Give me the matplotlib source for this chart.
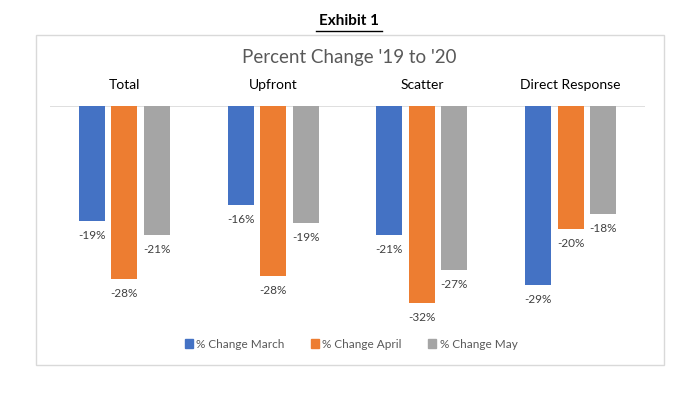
import numpy as np
import matplotlib.pyplot as plt
from matplotlib.patches import Rectangle, Patch
from matplotlib.lines import Line2D

plt.rcParams['font.family'] = ['Lato', 'DejaVu Sans']

categories = ['Total', 'Upfront', 'Scatter', 'Direct Response']
series = ['% Change March', '% Change April', '% Change May']
march = [-18.6, -16.1, -20.9, -29.1]
april = [-28.1, -27.6, -32.0, -20.0]
may = [-20.9, -19.0, -26.6, -17.6]
colors = ['#4472C4', '#ED7D31', '#A5A5A5']

W, H = 697, 403
fig = plt.figure(figsize=(W / 100, H / 100), dpi=100)
fig.patch.set_facecolor('white')

def fx(px):
    return px / W

def fy(py):
    return 1 - py / H

# outer chart frame
fig.patches.append(Rectangle((fx(36), fy(365)), fx(664) - fx(36), fy(35) - fy(365),
                             transform=fig.transFigure, fill=False,
                             edgecolor='#D9D9D9', lw=1))

# axes: zero line at y=106, 6.16 px per percent
ymin = -40
ax = fig.add_axes([fx(50), fy(106 + 40 * 6.16), fx(645) - fx(50), (40 * 6.16) / H])
ax.set_xlim(-0.5, 3.5)
ax.set_ylim(ymin, 0)
for s in ax.spines.values():
    s.set_visible(False)
ax.set_xticks([])
ax.set_yticks([])
ax.axhline(0, color='#D9D9D9', lw=1.2, zorder=1)

x = np.arange(len(categories))
width = 0.175
step = 0.218
for k, (vals, c) in enumerate(zip([march, april, may], colors)):
    pos = x + (k - 1) * step
    ax.bar(pos, vals, width, color=c, zorder=2)
    for p, v in zip(pos, vals):
        ax.annotate('{:.0f}%'.format(v), (p, v), xytext=(0, -10.5),
                    textcoords='offset points', ha='center', va='center',
                    fontsize=8.5, color='#404040')

for i, cat in enumerate(categories):
    ax.annotate(cat, (i, 0), xytext=(0, 15), textcoords='offset points',
                ha='center', va='center', fontsize=10, color='black',
                annotation_clip=False)

fig.text(fx(349), fy(57), "Percent Change '19 to '20", ha='center', va='center',
         fontsize=13.5, color='#595959')

fig.text(fx(349), fy(21), 'Exhibit 1', ha='center', va='center',
         fontsize=11, fontweight='bold', color='black')
fig.lines.append(Line2D([fx(316), fx(382)], [fy(31), fy(31)],
                        transform=fig.transFigure, color='black', lw=1))

handles = [Patch(facecolor=c, edgecolor=c) for c in colors]
leg = fig.legend(handles, series, loc='center', bbox_to_anchor=(fx(351), fy(344)),
                 ncol=3, frameon=False, fontsize=8.5, handlelength=0.7,
                 handleheight=0.7, handletextpad=0.3, columnspacing=2.2)
for t in leg.get_texts():
    t.set_color('#595959')

fig.savefig('out.png', dpi=100)
